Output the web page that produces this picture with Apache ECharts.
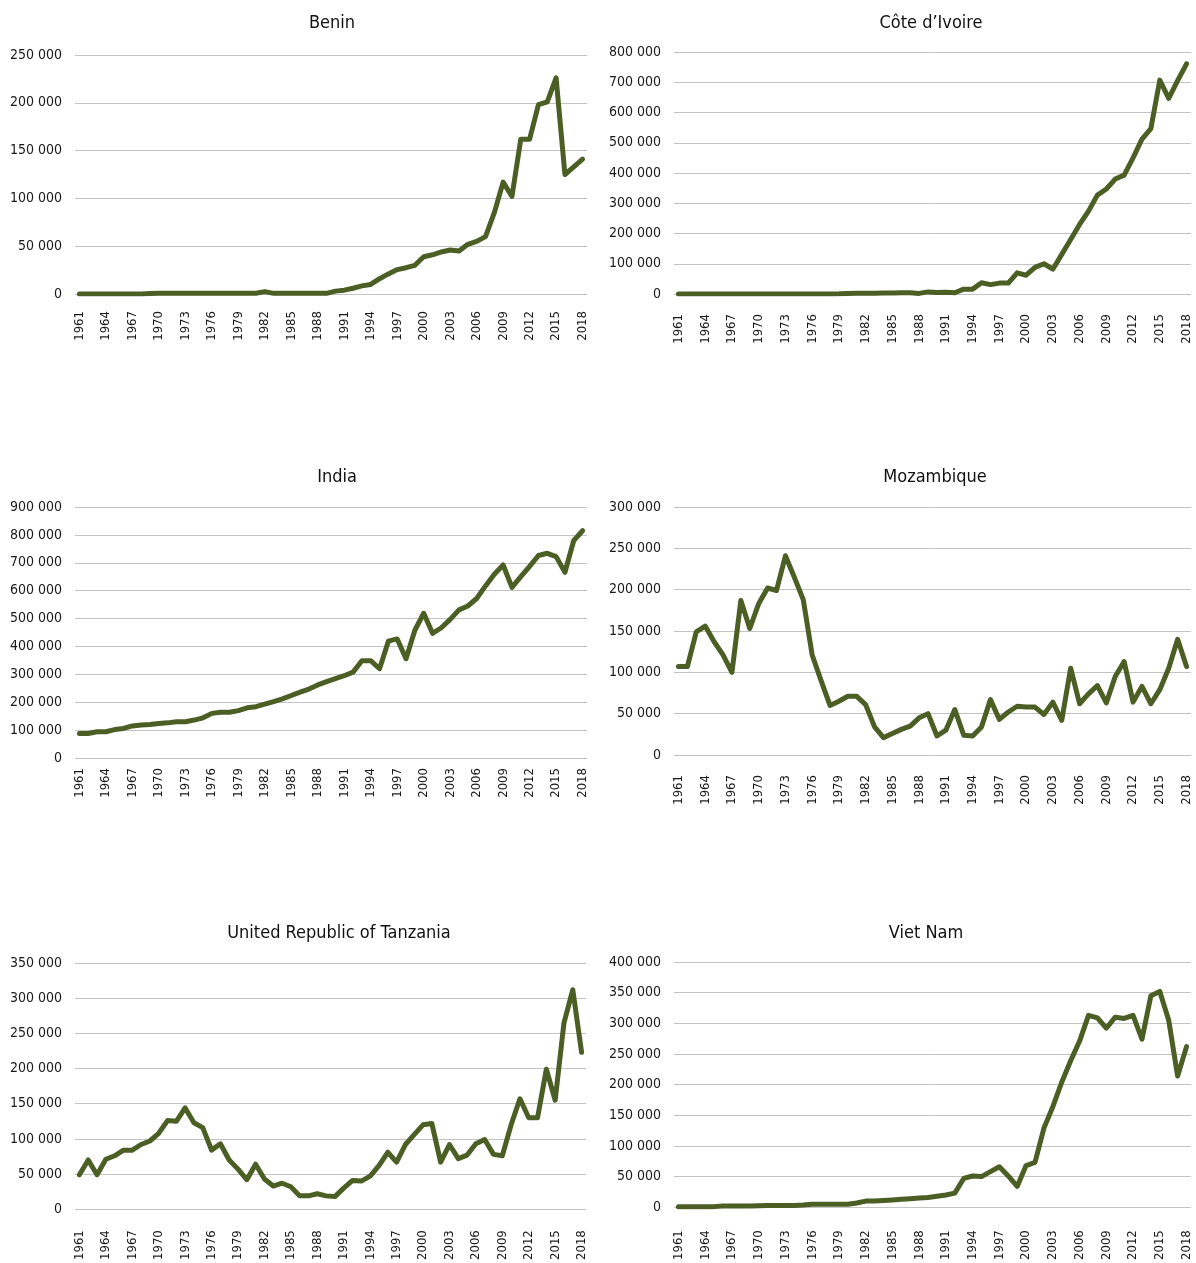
<!DOCTYPE html>
<html>
<head>
<meta charset="utf-8">
<script src="https://cdn.jsdelivr.net/npm/echarts@6/dist/echarts.min.js"></script>
<style>
  html, body { margin: 0; padding: 0; background: #fff; }
  #main { width: 1196px; height: 1263px; }
</style>
</head>
<body>
<div id="main"></div>
<script>
// years 1961..2018
var years = [];
for (var y = 1961; y <= 2018; y++) years.push(String(y));

var titles = ['Benin', 'Côte d\u2019Ivoire', 'India', 'Mozambique', 'United Republic of Tanzania', 'Viet Nam'];

var benin = [
  0, 0, 0, 0, 0, 0, 0, 0, 500, 800,
  800, 800, 800, 800, 800, 800, 800, 800, 800, 800,
  800, 2500, 700, 700, 700, 700, 700, 700, 700, 3000,
  4000, 6000, 8500, 10000, 16000, 21000, 25500, 27500, 30000, 39000,
  41000, 44000, 46000, 45000, 52000, 55000, 60000, 85000, 117000, 102000,
  162000, 162000, 198000, 201000, 226000, 125000, 133000, 141000
];
var coteIvoire = [
  0, 0, 0, 0, 0, 0, 0, 0, 0, 0,
  0, 0, 0, 0, 0, 0, 0, 0, 500, 2000,
  2500, 2500, 2500, 3000, 3000, 4000, 4000, 2000, 7000, 5000,
  6000, 4000, 16000, 16000, 37000, 31000, 36000, 36000, 70000, 62000,
  88000, 100000, 82000, 131000, 180000, 230000, 274000, 327000, 347000, 380000,
  393000, 450000, 512000, 547000, 707000, 647000, 705000, 761000
];
var india = [
  88000, 88000, 94000, 94000, 102000, 106000, 115000, 118000, 120000, 124000,
  126000, 130000, 130000, 136000, 144000, 160000, 164000, 164000, 170000, 180000,
  184000, 193000, 202000, 212000, 224000, 236000, 247000, 262000, 274000, 285000,
  295000, 308000, 349000, 349000, 320000, 419000, 427000, 356000, 458000, 519000,
  447000, 467000, 497000, 531000, 545000, 572000, 617000, 659000, 692000, 612000,
  650000, 687000, 726000, 734000, 722000, 666000, 780000, 815000
];
var mozambique = [
  107000, 107000, 149000, 156000, 137000, 121000, 100000, 187000, 153000, 183000,
  202000, 199000, 241000, 215000, 188000, 121000, 90000, 60000, 65000, 71000,
  71000, 61000, 34000, 21000, 26000, 31000, 35000, 45000, 50000, 23000,
  30000, 55000, 24000, 23000, 34000, 67000, 43000, 52000, 59000, 58000,
  58000, 49000, 64000, 42000, 105000, 62000, 74000, 84000, 63000, 95000,
  113000, 64000, 83000, 62000, 79000, 105000, 140000, 107000
];
var tanzania = [
  49000, 70000, 49000, 71000, 76000, 84000, 84000, 92000, 97000, 108000,
  126000, 125000, 144000, 123000, 116000, 84000, 93000, 70000, 57000, 42000,
  64000, 43000, 33000, 37000, 32000, 19000, 19000, 22000, 19000, 18000,
  30000, 41000, 40000, 47000, 62000, 81000, 67000, 92000, 106000, 120000,
  122000, 67000, 92000, 72000, 77000, 93000, 99000, 78000, 76000, 120000,
  157000, 130000, 130000, 199000, 155000, 265000, 312000, 223000
];
var vietNam = [
  1000, 1000, 1000, 1000, 1000, 2000, 2000, 2000, 2000, 2500,
  3000, 3000, 3000, 3000, 3500, 5000, 5000, 5000, 5000, 5000,
  7000, 10000, 10000, 11000, 12000, 13000, 14000, 15000, 16000, 18000,
  20000, 23000, 47000, 51000, 50000, 58000, 66000, 51000, 34000, 68000,
  73000, 129000, 164000, 204000, 239000, 271000, 313000, 309000, 292000, 310000,
  308000, 313000, 274000, 345000, 352000, 305000, 214000, 262000
];
var seriesData = [benin, coteIvoire, india, mozambique, tanzania, vietNam];

// y axis tick setup per panel
var yMax = [250000, 800000, 900000, 300000, 350000, 400000];
var yStep = [50000, 100000, 100000, 50000, 50000, 50000];

// panel boxes [left, top, width, height], title centre, x label margin
var boxes = [
  [75, 55, 512, 239],
  [674, 52, 517, 242],
  [75, 507, 512, 251],
  [674, 507, 517, 248],
  [75, 963, 511, 251],
  [674, 962, 517, 249]
];
var titlePos = [[327, 9], [926, 9], [332, 463], [930, 463], [334, 919], [921, 919]];
var xMargin = [17, 20, 10, 20, 21, 23];

var FONT = '"DejaVu Sans Condensed", "Liberation Sans Narrow", "Liberation Sans", sans-serif';
var LINE = '#4b5e24';

function fmt(v) {
  return String(v).replace(/\B(?=(\d{3})+(?!\d))/g, ' ');
}

var option = {
  backgroundColor: '#fff',
  animation: false,
  title: [],
  grid: [],
  xAxis: [],
  yAxis: [],
  series: []
};

for (var i = 0; i < 6; i++) {
  var b = boxes[i];
  option.title.push({
    text: titles[i],
    left: titlePos[i][0],
    top: titlePos[i][1],
    textAlign: 'center',
    textStyle: { fontFamily: FONT, fontSize: 18, fontWeight: 'normal', color: '#111' }
  });
  option.grid.push({ left: b[0], top: b[1], width: b[2], height: b[3], containLabel: false });
  option.xAxis.push({
    type: 'category',
    gridIndex: i,
    data: years,
    boundaryGap: true,
    axisLine: { show: false },
    axisTick: { show: false },
    axisLabel: {
      interval: 2,
      rotate: 90,
      margin: xMargin[i],
      fontFamily: FONT,
      fontSize: 13,
      color: '#1a1a1a'
    }
  });
  option.yAxis.push({
    type: 'value',
    gridIndex: i,
    min: 0,
    max: yMax[i],
    interval: yStep[i],
    axisLine: { show: false },
    axisTick: { show: false },
    splitLine: { lineStyle: { color: '#c4c4c4', width: 1 } },
    axisLabel: {
      margin: 13,
      fontFamily: FONT,
      fontSize: 14,
      color: '#1a1a1a',
      formatter: fmt
    }
  });
  option.series.push({
    type: 'line',
    xAxisIndex: i,
    yAxisIndex: i,
    data: seriesData[i],
    showSymbol: false,
    symbol: 'none',
    smooth: false,
    lineStyle: { color: LINE, width: 5, cap: 'round', join: 'round' }
  });
}

var myChart = echarts.init(document.getElementById('main'));
myChart.setOption(option);
</script>
</body>
</html>
